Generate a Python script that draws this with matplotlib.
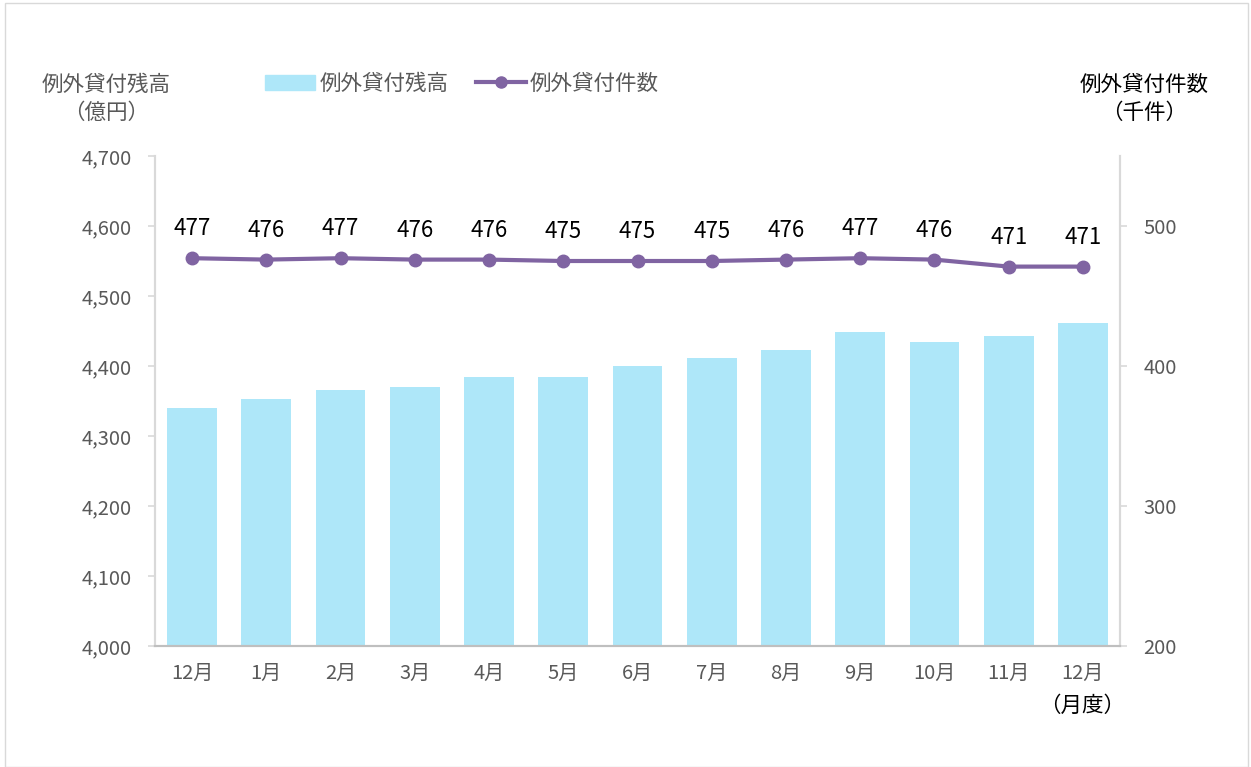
"""Recreate the exceptional-loan balance / count combo chart."""

import matplotlib

matplotlib.use("Agg")

import matplotlib.pyplot as plt
from matplotlib.lines import Line2D
from matplotlib.patches import Patch, Rectangle
from matplotlib.ticker import FuncFormatter

plt.rcParams["font.family"] = ["Noto Sans CJK JP", "DejaVu Sans"]

months = ["12月", "1月", "2月", "3月", "4月", "5月", "6月", "7月", "8月", "9月", "10月", "11月", "12月"]
balance = [4340, 4353, 4366, 4370, 4384, 4384, 4400, 4411, 4423, 4449, 4434, 4443, 4461]
counts = [477, 476, 477, 476, 476, 475, 475, 475, 476, 477, 476, 471, 471]

BAR_COLOR = "#AEE7F9"
LINE_COLOR = "#8064A2"
TICK_COLOR = "#595959"
AXIS_COLOR = "#D9D9D9"
FS_TICK = 14.5
FS_TITLE = 15.5

fig = plt.figure(figsize=(12.51, 7.67), dpi=100)
ax = fig.add_axes([155 / 1251, 1 - 646 / 767, 965 / 1251, 490 / 767])
ax2 = ax.twinx()

x = range(len(months))
ax.bar(x, balance, width=0.67, color=BAR_COLOR, zorder=2)
ax.set_ylim(4000, 4700)
ax.set_xlim(-0.5, len(months) - 0.5)
ax.set_yticks(range(4000, 4701, 100))
ax.yaxis.set_major_formatter(FuncFormatter(lambda v, _: f"{int(v):,}"))
ax.set_xticks(list(x))
ax.set_xticklabels(months)

ax2.plot(x, counts, color=LINE_COLOR, linewidth=3, marker="o", markersize=9, zorder=3)
ax2.set_ylim(200, 550)
ax2.set_yticks([200, 300, 400, 500])
for xi, c in zip(x, counts):
    ax2.annotate(str(c), (xi, c), xytext=(0, 13), textcoords="offset points",
                 ha="center", va="bottom", fontsize=16, color="black")

for a in (ax, ax2):
    a.spines["top"].set_visible(False)
    a.spines["left"].set_color(AXIS_COLOR)
    a.spines["right"].set_color(AXIS_COLOR)
    a.spines["bottom"].set_color("#BFBFBF")
    for side in ("left", "right", "bottom"):
        a.spines[side].set_linewidth(1.5)
    a.tick_params(axis="y", colors=AXIS_COLOR, labelcolor=TICK_COLOR, labelsize=FS_TICK,
                  length=5, width=1.2, pad=12)
ax.tick_params(axis="x", length=0, labelsize=FS_TICK, labelcolor=TICK_COLOR, pad=12)

# axis titles
fig.text(106 / 1251, 1 - 85 / 767, "例外貸付残高", ha="center", va="center", fontsize=FS_TITLE, color=TICK_COLOR)
fig.text(106 / 1251, 1 - 113 / 767, "（億円）", ha="center", va="center", fontsize=FS_TITLE, color=TICK_COLOR)
fig.text(1144 / 1251, 1 - 85 / 767, "例外貸付件数", ha="center", va="center", fontsize=FS_TITLE, color="black")
fig.text(1144 / 1251, 1 - 113 / 767, "（千件）", ha="center", va="center", fontsize=FS_TITLE, color="black")
fig.text(1082 / 1251, 1 - 706 / 767, "（月度）", ha="center", va="center", fontsize=FS_TITLE, color="black")

handles = [
    Patch(color=BAR_COLOR, label="例外貸付残高"),
    Line2D([0], [0], color=LINE_COLOR, linewidth=3, marker="o", markersize=8, label="例外貸付件数"),
]
fig.legend(handles=handles, loc="center left", bbox_to_anchor=(246 / 1251, 1 - 84 / 767), ncol=2,
           frameon=False, fontsize=FS_TITLE, labelcolor=TICK_COLOR, handlelength=2.3,
           handletextpad=0.2, columnspacing=1.3)

fig.patches.append(Rectangle((5 / 1251, 0), 1243 / 1251, 1 - 3 / 767, transform=fig.transFigure,
                             fill=False, edgecolor="#D9D9D9", linewidth=1))

fig.savefig("out.png", dpi=100)
